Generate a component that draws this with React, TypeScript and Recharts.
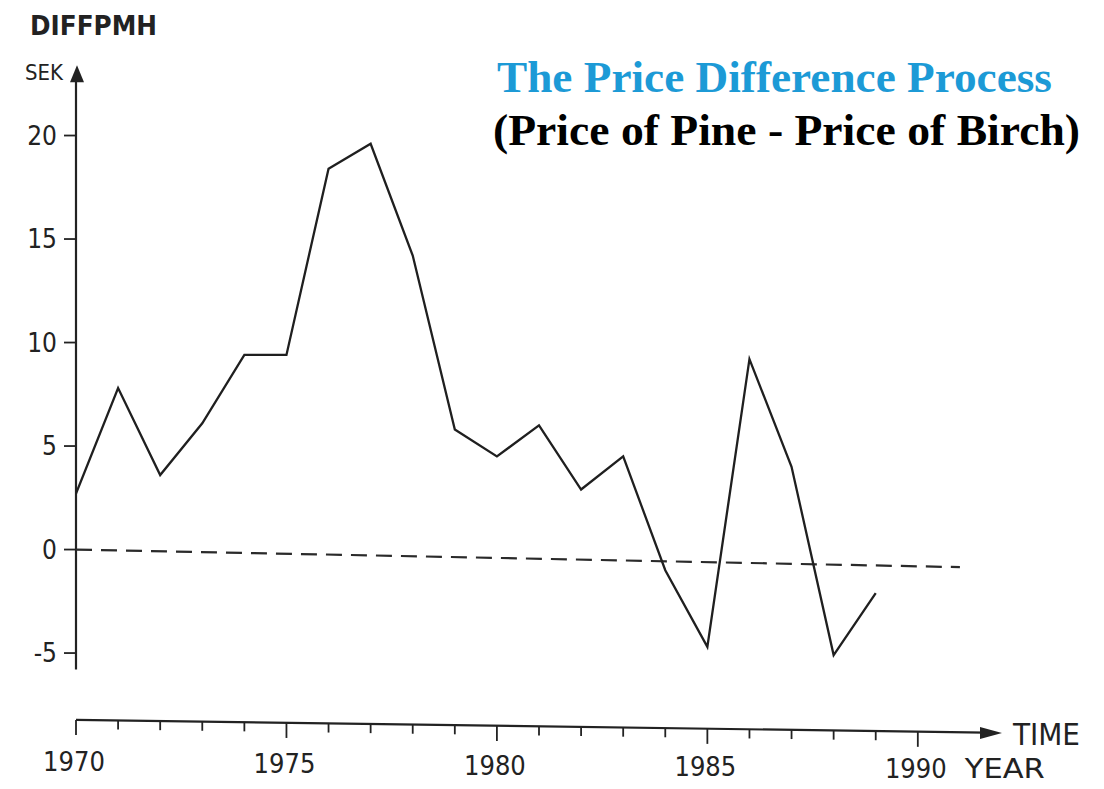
import { LineChart, Line, XAxis, YAxis, ReferenceLine, ReferenceDot } from 'recharts';

// yearly price difference, pine minus birch (SEK)
const years = [1970, 1971, 1972, 1973, 1974, 1975, 1976, 1977, 1978, 1979, 1980, 1981, 1982, 1983, 1984, 1985, 1986, 1987, 1988, 1989];
const priceDiff = [2.7, 7.8, 3.6, 6.1, 9.4, 9.4, 18.4, 19.6, 14.2, 5.8, 4.5, 6.0, 2.9, 4.5, -1.0, -4.7, 9.2, 4.0, -5.1, -2.1];

// dashed trend line, end points only
const trendYears = [1970, 1991];
const trendValues = [0, -0.85];

const xTicks = [1970, 1971, 1972, 1973, 1974, 1975, 1976, 1977, 1978, 1979, 1980, 1981, 1982, 1983, 1984, 1985, 1986, 1987, 1988, 1989, 1990];
const yTicks = [-5, 0, 5, 10, 15, 20];

const diffData = years.map((year, i) => ({ year, diff: priceDiff[i] }));
const trendData = trendYears.map((year, i) => ({ year, trend: trendValues[i] }));

const INK = '#222';
const AXIS_FONT = '"DejaVu Sans Condensed", "DejaVu Sans", sans-serif';
const SLOPE = 13 / 925; // the hand drawn time axis sinks a little to the right

function XTick(props: any) {
    const { x, y, payload } = props;
    const v = payload.value;
    const major = v % 5 === 0;
    const ay = y - 20 + (x - 76) * SLOPE;
    // labels sink a bit less than the line so the last one stays on the page
    const ly = y + 31 + (x - 76) * SLOPE * 0.6;
    return (
        <g>
            <line x1={x} y1={ay} x2={x} y2={ay + (major ? 15 : 9)} stroke={INK} strokeWidth={1.8} />
            {major && (
                <text x={x - 2} y={ly} textAnchor="middle" fontFamily={AXIS_FONT} fontSize={27} fill={INK}>
                    {v}
                </text>
            )}
            {v === 1990 && (
                <text x={x + 47} y={ly} fontFamily={AXIS_FONT} fontSize={27} fill={INK} textLength={80} lengthAdjust="spacingAndGlyphs">
                    YEAR
                </text>
            )}
        </g>
    );
}

const UpArrow = (props: any) => {
    const { cx, cy } = props;
    return <path d={`M${cx + 1},${cy} L${cx - 6},${cy + 17} L${cx + 8},${cy + 17} Z`} fill={INK} />;
};

const RightArrow = (props: any) => {
    const { cx, cy } = props;
    return <path d={`M${cx},${cy} L${cx - 22},${cy - 6} L${cx - 22},${cy + 6} Z`} fill={INK} />;
};

export default function App() {
    return (
        <div style={{ position: 'absolute', left: 0, top: 0, width: 1104, height: 789, background: '#fff' }}>
            <LineChart width={1104} height={789} margin={{ top: 61, right: 102, left: 10, bottom: 0 }}>
                <XAxis
                    dataKey="year"
                    type="number"
                    domain={[1970, 1992]}
                    ticks={xTicks}
                    interval={0}
                    height={49}
                    axisLine={false}
                    tickLine={false}
                    tickSize={0}
                    tickMargin={0}
                    tick={<XTick />}
                    allowDataOverflow
                />
                <YAxis
                    type="number"
                    domain={[-9.2, 23.6]}
                    ticks={yTicks}
                    width={66}
                    axisLine={false}
                    tickSize={12}
                    tickMargin={7}
                    tickLine={{ stroke: INK, strokeWidth: 1.8 }}
                    tick={{ fill: INK, fontSize: 26, fontFamily: AXIS_FONT }}
                    allowDataOverflow
                />
                {/* axes drawn as plain segments so they can stop short, like the original */}
                <ReferenceLine segment={[{ x: 1970, y: -5.8 }, { x: 1970, y: 22.8 }]} stroke={INK} strokeWidth={2.2} ifOverflow="visible" />
                <ReferenceDot x={1970} y={23.4} r={0} shape={<UpArrow />} ifOverflow="visible" />
                <ReferenceLine segment={[{ x: 1970, y: -8.23 }, { x: 1991.6, y: -8.84 }]} stroke={INK} strokeWidth={2.2} ifOverflow="visible" />
                <ReferenceDot x={1992} y={-8.86} r={0} shape={<RightArrow />} ifOverflow="visible" />

                <Line
                    data={trendData}
                    dataKey="trend"
                    type="linear"
                    stroke="#2a2a2a"
                    strokeWidth={2.2}
                    strokeDasharray="16 9"
                    dot={false}
                    isAnimationActive={false}
                />
                <Line
                    data={diffData}
                    dataKey="diff"
                    type="linear"
                    stroke="#1f1f1f"
                    strokeWidth={2.3}
                    dot={false}
                    isAnimationActive={false}
                />
            </LineChart>
            <svg width={1104} height={789} style={{ position: 'absolute', left: 0, top: 0, pointerEvents: 'none' }}>
                <text x={30} y={35} fontFamily={AXIS_FONT} fontWeight="bold" fontSize={27} fill={INK} textLength={127} lengthAdjust="spacingAndGlyphs">DIFFPMH</text>
                <text x={25} y={80} fontFamily={AXIS_FONT} fontSize={21} fill={INK} textLength={38} lengthAdjust="spacingAndGlyphs">SEK</text>
                <text x={1013} y={745} fontFamily={AXIS_FONT} fontSize={30} fill={INK} textLength={67} lengthAdjust="spacingAndGlyphs">TIME</text>
                <text x={497} y={92} fontFamily='"Liberation Serif", "Times New Roman", serif' fontWeight="bold" fontSize={44} fill="#1c9ad6" textLength={555} lengthAdjust="spacingAndGlyphs">
                    The Price Difference Process
                </text>
                <text x={493} y={145} fontFamily='"Liberation Serif", "Times New Roman", serif' fontWeight="bold" fontSize={44} fill="#000" textLength={587} lengthAdjust="spacingAndGlyphs">
                    (Price of Pine - Price of Birch)
                </text>
            </svg>
        </div>
    );
}
